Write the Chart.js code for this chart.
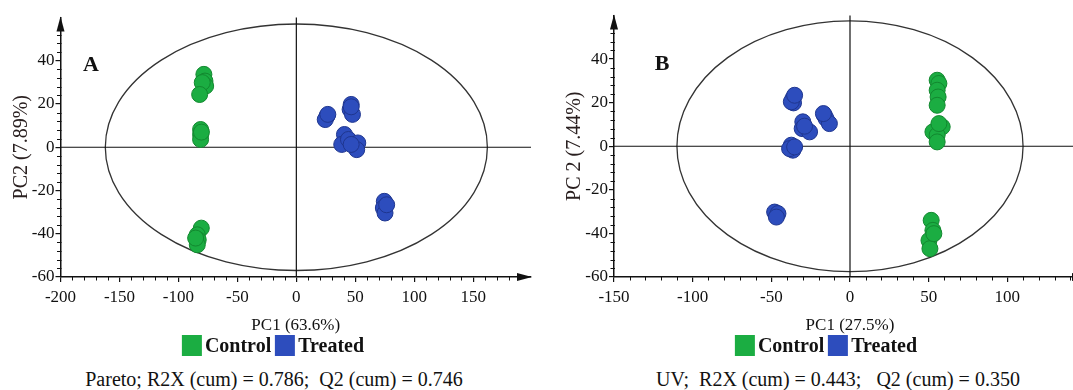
<!DOCTYPE html>
<html>
<head>
<meta charset="utf-8">
<script src="https://cdn.jsdelivr.net/npm/chart.js@4.4.1/dist/chart.umd.min.js"></script>
<style>
  html, body { margin: 0; padding: 0; background: #fff; }
  body { width: 1073px; height: 390px; overflow: hidden; position: relative;
         font-family: "Liberation Serif", "Times New Roman", serif; color: #111; }
  canvas { position: absolute; top: 0; }
  #chartA { left: 0; }
  #chartB { left: 545px; }
  .letter { position: absolute; font-weight: bold; font-size: 22px; line-height: 22px;
            transform: translate(-50%, -50%); }
  .legend { position: absolute; top: 335px; display: flex; align-items: center;
            transform: translateX(-50%); font-weight: bold; font-size: 20px; line-height: 21px; white-space: nowrap; }
  .legend .box { display: inline-block; width: 20px; height: 21px; margin-right: 3px; }
  .legend .lbl { margin-right: 4px; }
  .foot { position: absolute; top: 368px; font-size: 20px; line-height: 22px; white-space: pre;
          transform: translateX(-50%); }
</style>
</head>
<body>
<canvas id="chartA" width="540" height="345"></canvas>
<canvas id="chartB" width="550" height="345"></canvas>
<div class="letter" style="left:91px;top:64px">A</div>
<div class="letter" style="left:662px;top:63px">B</div>
<div class="legend" id="legA" style="left:275px"></div>
<div class="legend" id="legB" style="left:828px"></div>
<div class="foot" id="footA" style="left:274px"></div>
<div class="foot" id="footB" style="left:838px"></div>

<script>
const serif = "'Liberation Serif', 'Times New Roman', serif";
Chart.defaults.font.family = serif;

const seriesNames = ["Control", "Treated"];
const seriesColors = ["#1bad42", "#2d4dbd"];
const seriesBorders = ["#12882f", "#1f368f"];

// tick labels
const xTicksA = [-200, -150, -100, -50, 0, 50, 100, 150];
const xTicksB = [-150, -100, -50, 0, 50, 100];
const yTicks = [-60, -40, -20, 0, 20, 40];

// panel A: Pareto scaling, scores [PC1, PC2]
const controlA = [
  [-78.4, 33.7], [-77.5, 30.6], [-76.9, 28.3], [-79.8, 29.9], [-82, 24.4],
  [-81.2, 8.2], [-81.2, 5.9], [-81.2, 3.6], [-80.5, 7.0],
  [-80.6, -37.4], [-84, -40.5], [-83.2, -42.8], [-84, -45.1], [-85.4, -42]
];
const treatedA = [
  [26.0, 14.4], [24.5, 12.8], [26.7, 15.2],
  [46.5, 19.8], [45.6, 17.5], [47.6, 15.2], [46.5, 18.7],
  [40.8, 5.9], [38.5, 1.3], [44.2, 3.6], [52.1, 2.0], [51.2, -1.1], [46.5, 1.3],
  [74.6, -25.0], [73.8, -28.1], [75.2, -30.4], [76.6, -26.6]
];

// panel B: UV scaling
const controlB = [
  [55.4, 30.3], [56.5, 28.8], [55.4, 25.7], [56.0, 22.6], [55.4, 18.8],
  [58.6, 8.9], [52.7, 6.6], [55.4, 5.1], [55.4, 2.0], [56.5, 10.4],
  [51.6, -34.0], [52.7, -38.6], [50.2, -43.2], [50.8, -47.0], [53.3, -40.1]
];
const treatedB = [
  [-36.3, 21.9], [-35.9, 19.9], [-37.3, 20.4], [-35.2, 23.4],
  [-16.3, 14.2], [-15.2, 12.7], [-13.1, 10.4], [-16.9, 15.0],
  [-30.0, 11.2], [-30.4, 8.1], [-25.7, 6.6], [-28.9, 9.2],
  [-37.3, 0.5], [-36.3, -1.8], [-38.4, -1.1], [-35.2, -0.3],
  [-47.9, -30.2], [-45.8, -30.9], [-46.8, -32.5]
];

// Hotelling ellipse half-axes [PC1, PC2]
const ellipseA = [162, 57];
const ellipseB = [110, 57.5];

const titlesA = ["PC1 (63.6%)", "PC2 (7.89%)"];
const titlesB = ["PC1 (27.5%)", "PC 2 (7.44%)"];
const footA = "Pareto; R2X (cum) = 0.786;  Q2 (cum) = 0.746";
const footB = "UV;  R2X (cum) = 0.443;   Q2 (cum) = 0.350";

const decor = {
  id: 'decor',
  beforeDatasetsDraw(chart, args, o) {
    const {ctx, chartArea: a, scales: {x, y}} = chart;
    const cx = x.getPixelForValue(0), cy = y.getPixelForValue(0);
    ctx.save();
    // ellipse
    ctx.strokeStyle = '#333';
    ctx.lineWidth = 1.3;
    ctx.beginPath();
    ctx.ellipse(cx, cy, x.getPixelForValue(o.rx) - cx, cy - y.getPixelForValue(o.ry), 0, 0, Math.PI * 2);
    ctx.stroke();
    // zero lines
    ctx.strokeStyle = '#111';
    ctx.lineWidth = 1.2;
    ctx.beginPath();
    ctx.moveTo(cx, a.top); ctx.lineTo(cx, a.bottom);
    ctx.moveTo(a.left, cy); ctx.lineTo(a.right, cy);
    ctx.stroke();
    // minor ticks
    ctx.lineWidth = 1;
    ctx.beginPath();
    for (let v = x.min + 10; v <= o.xMinorMax; v += 10) {
      if (v % 50 === 0) continue;
      const px = Math.round(x.getPixelForValue(v)) + 0.5;
      ctx.moveTo(px, a.bottom); ctx.lineTo(px, a.bottom + 3.5);
    }
    for (let v = y.min + 4; v <= o.yMinorMax; v += 4) {
      if (v % 20 === 0) continue;
      const py = Math.round(y.getPixelForValue(v)) + 0.5;
      ctx.moveTo(a.left - 3.5, py); ctx.lineTo(a.left + 1, py);
    }
    ctx.stroke();
    // axis arrows
    ctx.fillStyle = '#111';
    ctx.beginPath();
    ctx.moveTo(a.left, a.top - 1); ctx.lineTo(a.left - 4, a.top + 14); ctx.lineTo(a.left + 4, a.top + 14);
    ctx.closePath(); ctx.fill();
    ctx.beginPath();
    ctx.moveTo(a.right + 1, a.bottom); ctx.lineTo(a.right - 14, a.bottom - 4); ctx.lineTo(a.right - 14, a.bottom + 4);
    ctx.closePath(); ctx.fill();
    ctx.restore();
  }
};

function makePanel(id, ctrl, trt, o) {
  return new Chart(document.getElementById(id), {
    type: 'scatter',
    data: {
      datasets: [ctrl, trt].map((pts, i) => ({
        label: seriesNames[i],
        data: pts.map(p => ({x: p[0], y: p[1]})),
        backgroundColor: seriesColors[i],
        borderColor: seriesBorders[i],
        borderWidth: 1,
        pointRadius: 8
      }))
    },
    options: {
      responsive: false,
      animation: false,
      events: [],
      layout: {padding: {top: o.top, right: o.right, left: 0, bottom: 0}},
      plugins: {
        legend: {display: false},
        tooltip: {enabled: false},
        decor: {rx: o.ellipse[0], ry: o.ellipse[1], xMinorMax: o.xMinorMax, yMinorMax: 52}
      },
      scales: {
        x: {
          type: 'linear', min: o.xMin, max: o.xMax,
          afterFit: s => { s.height = 68; },
          afterBuildTicks: s => { s.ticks = o.xTicks.map(v => ({value: v})); },
          border: {color: '#111', width: 1.5},
          grid: {drawOnChartArea: false, tickLength: 5, color: '#111', lineWidth: 1.2},
          ticks: {padding: 5, color: '#111', maxRotation: 0, minRotation: 0, autoSkip: false,
                  font: {family: serif, size: 17}},
          title: {display: true, text: o.titles[0], color: '#111',
                  font: {family: serif, size: 17}, padding: {top: 0, bottom: 9}}
        },
        y: {
          type: 'linear', min: -60, max: 60,
          afterFit: s => { s.width = o.yAxisW; },
          afterBuildTicks: s => { s.ticks = yTicks.map(v => ({value: v})); },
          border: {color: '#111', width: 1.5},
          grid: {drawOnChartArea: false, tickLength: 5, color: '#111', lineWidth: 1.2},
          ticks: {padding: 1, color: '#111', autoSkip: false,
                  font: {family: serif, size: 17}},
          title: {display: true, text: o.titles[1], color: '#2a2020',
                  font: {family: serif, size: 20}, padding: {top: o.yTitlePad, bottom: 0}}
        }
      }
    },
    plugins: [decor]
  });
}

makePanel('chartA', controlA, treatedA, {
  xMin: -200, xMax: 199, xTicks: xTicksA, xMinorMax: 180,
  top: 17.5, right: 8, yAxisW: 60.5, yTitlePad: 10,
  ellipse: ellipseA, titles: titlesA
});
makePanel('chartB', controlB, treatedB, {
  xMin: -150, xMax: 150, xTicks: xTicksB, xMinorMax: 140,
  top: 15.5, right: 7.5, yAxisW: 69, yTitlePad: 18,
  ellipse: ellipseB, titles: titlesB
});

function buildLegend(elId) {
  document.getElementById(elId).innerHTML = seriesNames.map((n, i) =>
    `<span class="box" style="background:${seriesColors[i]}"></span><span class="lbl">${n}</span>`
  ).join("");
}
buildLegend("legA");
buildLegend("legB");
document.getElementById("footA").textContent = footA;
document.getElementById("footB").textContent = footB;
</script>
</body>
</html>
